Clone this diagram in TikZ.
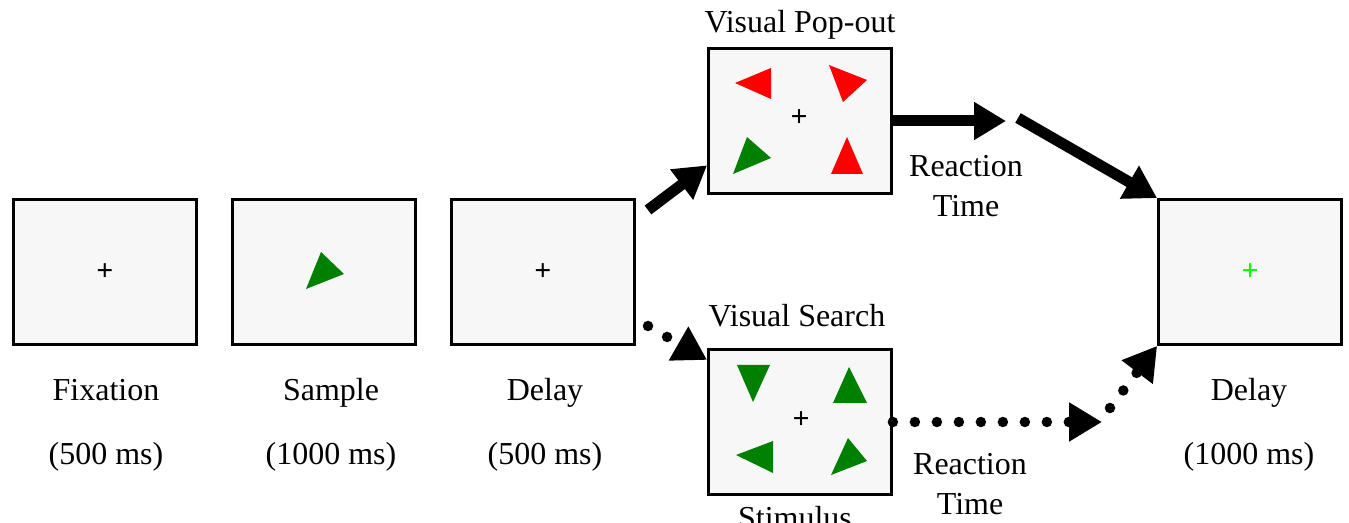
\documentclass[tikz,border=0pt]{standalone}
\usepackage{fontspec}
\setmainfont{Liberation Serif}
\usetikzlibrary{arrows.meta,calc}

\definecolor{screenfill}{HTML}{F7F7F7}
\definecolor{stimgreen}{HTML}{008000}
\definecolor{stimred}{HTML}{FF0000}

\tikzset{
    screen/.style={draw, line width=1.6pt, fill=screenfill, minimum width=3.66cm, minimum height=2.9cm, inner sep=0pt},
    label/.style={font=\fontsize{18.2}{22}\selectfont, anchor=base, inner sep=0pt},
    fixcross/.style={font=\fontsize{17}{17}\selectfont\bfseries, inner sep=0pt},
    flow/.style={line width=0.22cm, -{Triangle[length=0.64cm,width=0.72cm]}},
    dotflow/.style={line width=0.21cm, line cap=round, dash pattern=on 0pt off 0.44cm, -{Triangle[length=0.66cm,width=0.74cm]}}
}

\begin{document}
\begin{tikzpicture}[x=0.02cm, y=-0.02cm]
                    \clip (0,0) rectangle (1349,523);
                    \fill[white] (0,0) rectangle (1349,523);

                    \node[screen] (fix) at (105,272) {};
                    \node[screen] (sample) at (324,272) {};
                    \node[screen] (delay) at (543,272) {};
                    \node[screen] (pop) at (800,121) {};
                    \node[screen] (search) at (800,422) {};
                    \node[screen] (final) at (1250,272) {};

                    \node[fixcross] (fixcross1) at (fix.center) {+};
                    \node[fixcross] (fixcross2) at (delay.center) {+};
                    \node[fixcross] (fixcross3) at (799,118) {+};
                    \node[fixcross] (fixcross4) at (801,420) {+};
                    \node[fixcross, text=green] (fixcross5) at (final.center) {+};

                    \fill[stimgreen] (321,252) -- (344,274) -- (306,289) -- cycle;

                    \fill[stimred] (735,83) -- (771,68) -- (771,99) -- cycle;
                    \fill[stimred] (829,65) -- (867,80) -- (843,102) -- cycle;
                    \fill[stimgreen] (747,137) -- (771,158) -- (733,174) -- cycle;
                    \fill[stimred] (847,137) -- (863,174) -- (831,174) -- cycle;

                    \fill[stimgreen] (737,365) -- (770,365) -- (753,402) -- cycle;
                    \fill[stimgreen] (849,367) -- (867,403) -- (833,403) -- cycle;
                    \fill[stimgreen] (736,455) -- (773,441) -- (773,473) -- cycle;
                    \fill[stimgreen] (848,438) -- (867,461) -- (831,475) -- cycle;

                    \node[label] (fixname) at (106,400) {Fixation};
                    \node[label] (fixtime) at (106,464) {(500 ms)};
                    \node[label] (samplename) at (331,400) {Sample};
                    \node[label] (sampletime) at (331,464) {(1000 ms)};
                    \node[label] (delayname) at (545,400) {Delay};
                    \node[label] (delaytime) at (545,464) {(500 ms)};
                    \node[label] (finalname) at (1249,400) {Delay};
                    \node[label] (finaltime) at (1249,464) {(1000 ms)};

                    \node[label] (poptitle) at (800,33) {Visual Pop-out};
                    \node[label] (searchtitle) at (797,327) {Visual Search};
                    \node[label] (searchname) at (795,528) {Stimulus};
                    \node[label] (poprt1) at (966,177) {Reaction};
                    \node[label] (poprt2) at (966,217) {Time};
                    \node[label] (searchrt1) at (970,475) {Reaction};
                    \node[label] (searchrt2) at (970,514) {Time};

                    \coordinate (popstart) at (648,210);
                    \coordinate (popend) at (1006,121);
                    \coordinate (popback) at (1018,118);
                    \coordinate (searchstart) at (648,326);
                    \coordinate (searchend) at (1102,422);
                    \coordinate (searchback) at (1110,408);

                    \draw[flow] (popstart) -- ($(pop.south west)!0.2!(pop.north west)$);
                    \draw[flow] (pop.east) -- (popend);
                    \draw[flow] (popback) -- (final.north west);

                    \draw[dotflow] (searchstart) -- ($(search.north west)!0.08!(search.south west)$);
                    \draw[dotflow] (search.east) -- (searchend);
                    \draw[dotflow] (searchback) -- (final.south west);
                \end{tikzpicture}
\end{document}
